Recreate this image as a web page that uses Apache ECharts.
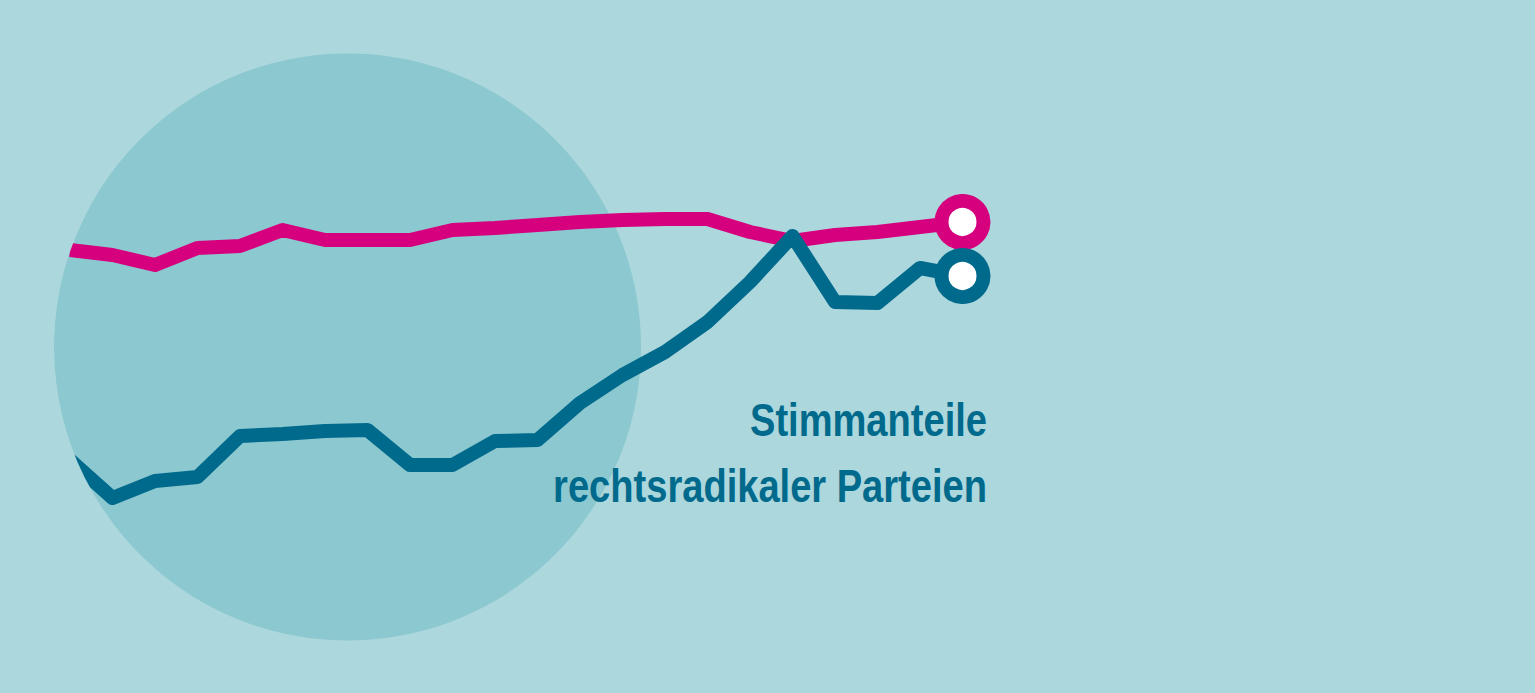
<!DOCTYPE html>
<html>
<head>
<meta charset="utf-8">
<style>
  html, body { margin: 0; padding: 0; background: #acd7dc; }
  #chart { width: 1535px; height: 693px; }
</style>
<script src="https://cdn.jsdelivr.net/npm/echarts@6/dist/echarts.min.js"></script>
</head>
<body>
<div id="chart"></div>
<script>
// Data (arbitrary share units)
var categories = ['1','2','3','4','5','6','7','8','9','10','11','12','13','14','15','16','17','18','19','20','21','22'];
var magentaSeries = [44.3, 43.8, 42.8, 44.5, 44.7, 46.3, 45.3, 45.3, 45.3, 46.3, 46.5, 46.8, 47.1, 47.3, 47.4, 47.4, 46.1, 45.2, 45.8, 46.1, 46.6, 47.1];
var blueSeries = [23.3, 19.5, 21.2, 21.6, 25.7, 25.9, 26.2, 26.3, 22.8, 22.8, 25.2, 25.3, 29.0, 31.8, 34.1, 37.1, 41.1, 45.7, 39.1, 39.0, 42.5, 41.7];
var titleLines = ['Stimmanteile', 'rechtsradikaler Parteien'];

var BG = '#acd7dc', CIRCLE = '#8cc8cf', BLUE = '#006a8d', MAGENTA = '#d6007e';
var FONT = "'Liberation Sans', Arial, sans-serif";

var chart = echarts.init(document.getElementById('chart'), null, { renderer: 'svg' });

function endMarker(n) {
  return function (v, p) { return p.dataIndex === n - 1 ? 42 : 0; };
}

chart.setOption({
  backgroundColor: BG,
  animation: false,
  grid: { left: 70, right: 572.5, top: 193, bottom: 0 },
  xAxis: { type: 'category', data: categories, boundaryGap: false, show: false },
  yAxis: { type: 'value', min: 0, max: 50, show: false },
  graphic: [
    { type: 'circle', z: -10, silent: true,
      shape: { cx: 347.5, cy: 347, r: 293.5 },
      style: { fill: CIRCLE } },
    // mask that clips the line starts to the circle's left edge
    { type: 'arc', z: 100, silent: true,
      shape: { cx: 347.5, cy: 347, r: 315, startAngle: Math.PI * 0.72, endAngle: Math.PI * 1.28 },
      style: { stroke: BG, lineWidth: 43, fill: null } },
    { type: 'text', z: 50, silent: true, x: 987, y: 420, scaleX: 0.828,
      style: { text: titleLines[0], fill: BLUE, font: 'bold 46px ' + FONT, align: 'right', verticalAlign: 'middle' } },
    { type: 'text', z: 50, silent: true, x: 987, y: 486, scaleX: 0.828,
      style: { text: titleLines[1], fill: BLUE, font: 'bold 46px ' + FONT, align: 'right', verticalAlign: 'middle' } }
  ],
  series: [
    { type: 'line', data: magentaSeries, silent: true,
      showSymbol: true, showAllSymbol: true, symbol: 'circle',
      symbolSize: endMarker(magentaSeries.length),
      itemStyle: { color: '#ffffff', borderColor: MAGENTA, borderWidth: 14, opacity: 1 },
      lineStyle: { color: MAGENTA, width: 14, join: 'round' } },
    { type: 'line', data: blueSeries, silent: true,
      showSymbol: true, showAllSymbol: true, symbol: 'circle',
      symbolSize: endMarker(blueSeries.length),
      itemStyle: { color: '#ffffff', borderColor: BLUE, borderWidth: 14, opacity: 1 },
      lineStyle: { color: BLUE, width: 14, join: 'round' } }
  ]
});
</script>
</body>
</html>
